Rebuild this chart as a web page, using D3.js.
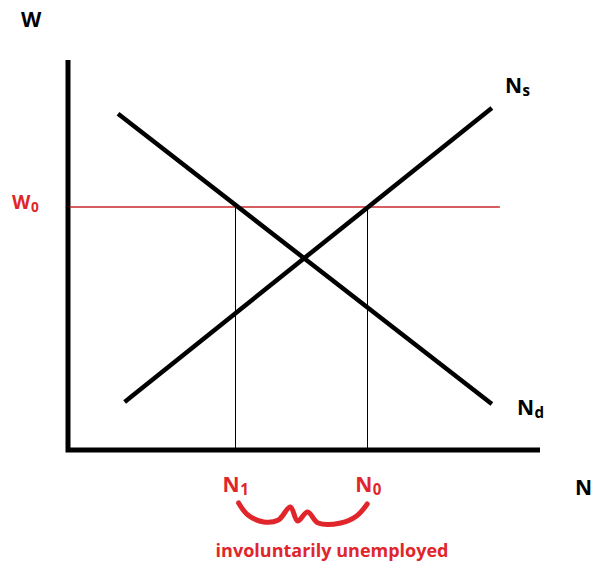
<!DOCTYPE html>
<html>
<head>
<meta charset="utf-8">
<script src="https://cdn.jsdelivr.net/npm/d3@7"></script>
<style>
  body { margin: 0; background: #fff; }
  text { font-family: "Open Sans", "Noto Sans", sans-serif; font-weight: bold; }
</style>
</head>
<body>
<div id="chart"></div>
<script>
const width = 592;
const height = 563;

// labour market values (arbitrary units)
const supplyCurve = [{ n: 12.0, w: 12.3 }, { n: 89.8, w: 87.7 }];
const demandCurve = [{ n: 10.6, w: 86.2 }, { n: 89.8, w: 11.8 }];
const wageW0 = 62.3;
const wageLineEnd = 91.5;
const employment = [{ name: 'N1', sub: '1', n: 35.3 }, { name: 'N0', sub: '0', n: 63.4 }];

// hand drawn brace between N1 and N0: [fraction along, drop]
const braceShape = [[0.03, 0], [0.1, 12], [0.22, 19], [0.33, 17], [0.42, 4], [0.475, 18],
  [0.55, 9], [0.63, 20], [0.8, 20], [0.92, 13], [1.0, 1]];

const red = '#e0252b';

const x = d3.scaleLinear().domain([0, 100]).range([68, 540]);
const y = d3.scaleLinear().domain([0, 100]).range([450, 60]);

const svg = d3.select('#chart')
  .append('svg')
  .attr('width', width)
  .attr('height', height);

// axes
svg.append('path')
  .attr('d', `M${x(0)},${y(100)} L${x(0)},${y(0)} L${x(100)},${y(0)}`)
  .attr('fill', 'none')
  .attr('stroke', '#000')
  .attr('stroke-width', 5)
  .attr('stroke-linejoin', 'miter');

const yW0 = Math.round(y(wageW0));

// drop lines from W0 down to N axis
svg.selectAll('.drop')
  .data(employment)
  .join('line')
  .attr('class', 'drop')
  .attr('x1', d => Math.round(x(d.n)) + 0.5)
  .attr('x2', d => Math.round(x(d.n)) + 0.5)
  .attr('y1', yW0)
  .attr('y2', y(0))
  .attr('stroke', '#000')
  .attr('stroke-width', 1);

// W0 line
svg.append('line')
  .attr('x1', x(0) + 2)
  .attr('x2', x(wageLineEnd))
  .attr('y1', yW0)
  .attr('y2', yW0)
  .attr('stroke', '#c8282b')
  .attr('stroke-width', 1.4);

const line = d3.line()
  .x(d => x(d.n))
  .y(d => y(d.w));

svg.selectAll('.curve')
  .data([demandCurve, supplyCurve])
  .join('path')
  .attr('class', 'curve')
  .attr('d', line)
  .attr('fill', 'none')
  .attr('stroke', '#000')
  .attr('stroke-width', 4.5);

// labels
svg.append('text')
  .attr('x', 21)
  .attr('y', 27)
  .attr('font-size', 21)
  .text('W');

function subLabel(px, py, main, sub, color, size) {
  const t = svg.append('text')
    .attr('x', px)
    .attr('y', py)
    .attr('fill', color)
    .attr('font-size', size);
  t.append('tspan').text(main);
  t.append('tspan')
    .attr('font-size', size * 0.72)
    .attr('dx', 0.5)
    .attr('dy', 3)
    .text(sub);
}

subLabel(12, yW0 + 1.5, 'W', '0', red, 19);
subLabel(505, 93, 'N', 's', '#000', 21);
subLabel(517, 415, 'N', 'd', '#000', 21);

svg.append('text')
  .attr('x', 575)
  .attr('y', 495)
  .attr('font-size', 21)
  .text('N');

employment.forEach(d => {
  subLabel(x(d.n) - 12, 492, 'N', d.sub, red, 21);
});

// brace
const n1 = x(employment[0].n);
const n0 = x(employment[1].n);
svg.append('path')
  .attr('d', d3.line()
    .x(d => n1 + d[0] * (n0 - n1))
    .y(d => 503 + d[1])
    .curve(d3.curveCatmullRom)(braceShape))
  .attr('fill', 'none')
  .attr('stroke', red)
  .attr('stroke-width', 5)
  .attr('stroke-linecap', 'round')
  .attr('stroke-linejoin', 'round');

svg.append('text')
  .attr('x', n1 - 19)
  .attr('y', 557)
  .attr('fill', red)
  .attr('font-size', 18)
  .text('involuntarily unemployed');
</script>
</body>
</html>
